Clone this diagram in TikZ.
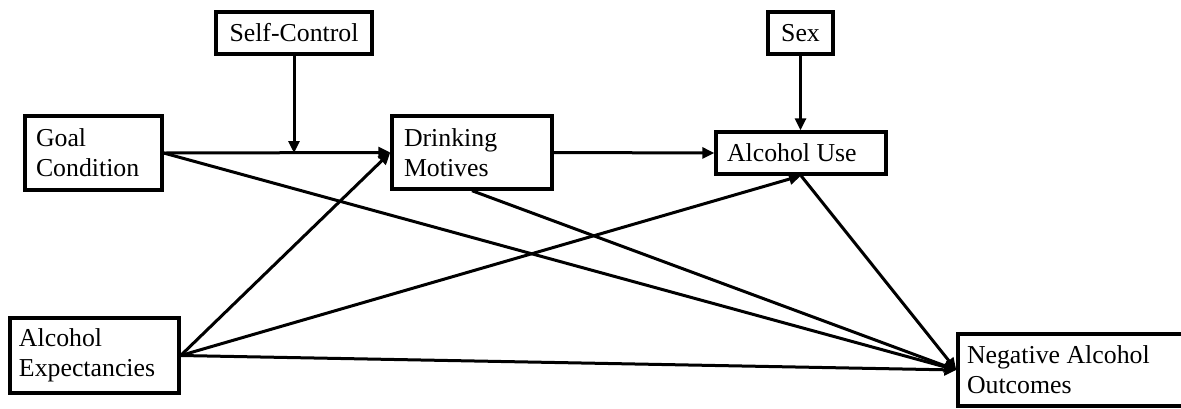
\documentclass[tikz,border=0pt]{standalone}
\usepackage{fontspec}
\setmainfont{Liberation Serif}
\usetikzlibrary{arrows.meta}
\begin{document}
\begin{tikzpicture}[x=1pt,y=-1pt,
  box/.style={draw, line width=3.4pt, inner ysep=0pt, font=\fontsize{25.8}{30}\selectfont},
  lbox/.style={box, align=left},
  cbox/.style={box, align=center, inner xsep=0pt},
  arr/.style={line width=3pt, -{Triangle[length=12pt,width=11pt]}}
]
\useasboundingbox (0,0) rectangle (1181,408);
% nodes
\node[cbox, minimum width=156pt, minimum height=42pt] (SC) at (294,33) {Self-Control};
\node[cbox, minimum width=65pt, minimum height=42pt] (Sex) at (800.5,33) {Sex};
\node[lbox, inner xsep=11pt, text width=115pt, minimum height=74pt] (GC) at (93.5,153) {\spaceskip=0pt Goal\\Condition};
\node[lbox, inner xsep=12pt, text width=136pt, minimum height=73pt] (DM) at (472,152.5) {\spaceskip=0pt Drinking\\Motives};
\node[lbox, inner xsep=11pt, text width=148pt, minimum height=42pt] (AU) at (801,153) {\spaceskip=0pt Alcohol Use};
\node[lbox, inner xsep=9pt, text width=151pt, minimum height=75pt] (AE) at (94.5,355.5) {\spaceskip=0pt Alcohol\\Expectancies};
\node[lbox, inner xsep=9pt, text width=282pt, minimum height=72pt] (NO) at (1108,370) {\spaceskip=0pt Negative Alcohol\\Outcomes};
% moderation point
\coordinate (mod) at (SC.south |- GC.east);
% connectors
\draw[arr] (GC.east) -- (DM.west);
\draw[arr] (SC.south) -- (mod);
\draw[arr] (DM.east) -- (AU.west);
\draw[arr] (Sex.south) -- (Sex.south |- AU.north);
\draw[arr] (GC.east) -- (NO.west);
\draw[arr] (DM.south) -- (NO.west);
\draw[arr] (AU.south) -- (NO.west);
\draw[arr] (AE.east) -- (DM.west);
\draw[arr] (AE.east) -- (AU.south);
\draw[arr] (AE.east) -- (NO.west);
\end{tikzpicture}
\end{document}
